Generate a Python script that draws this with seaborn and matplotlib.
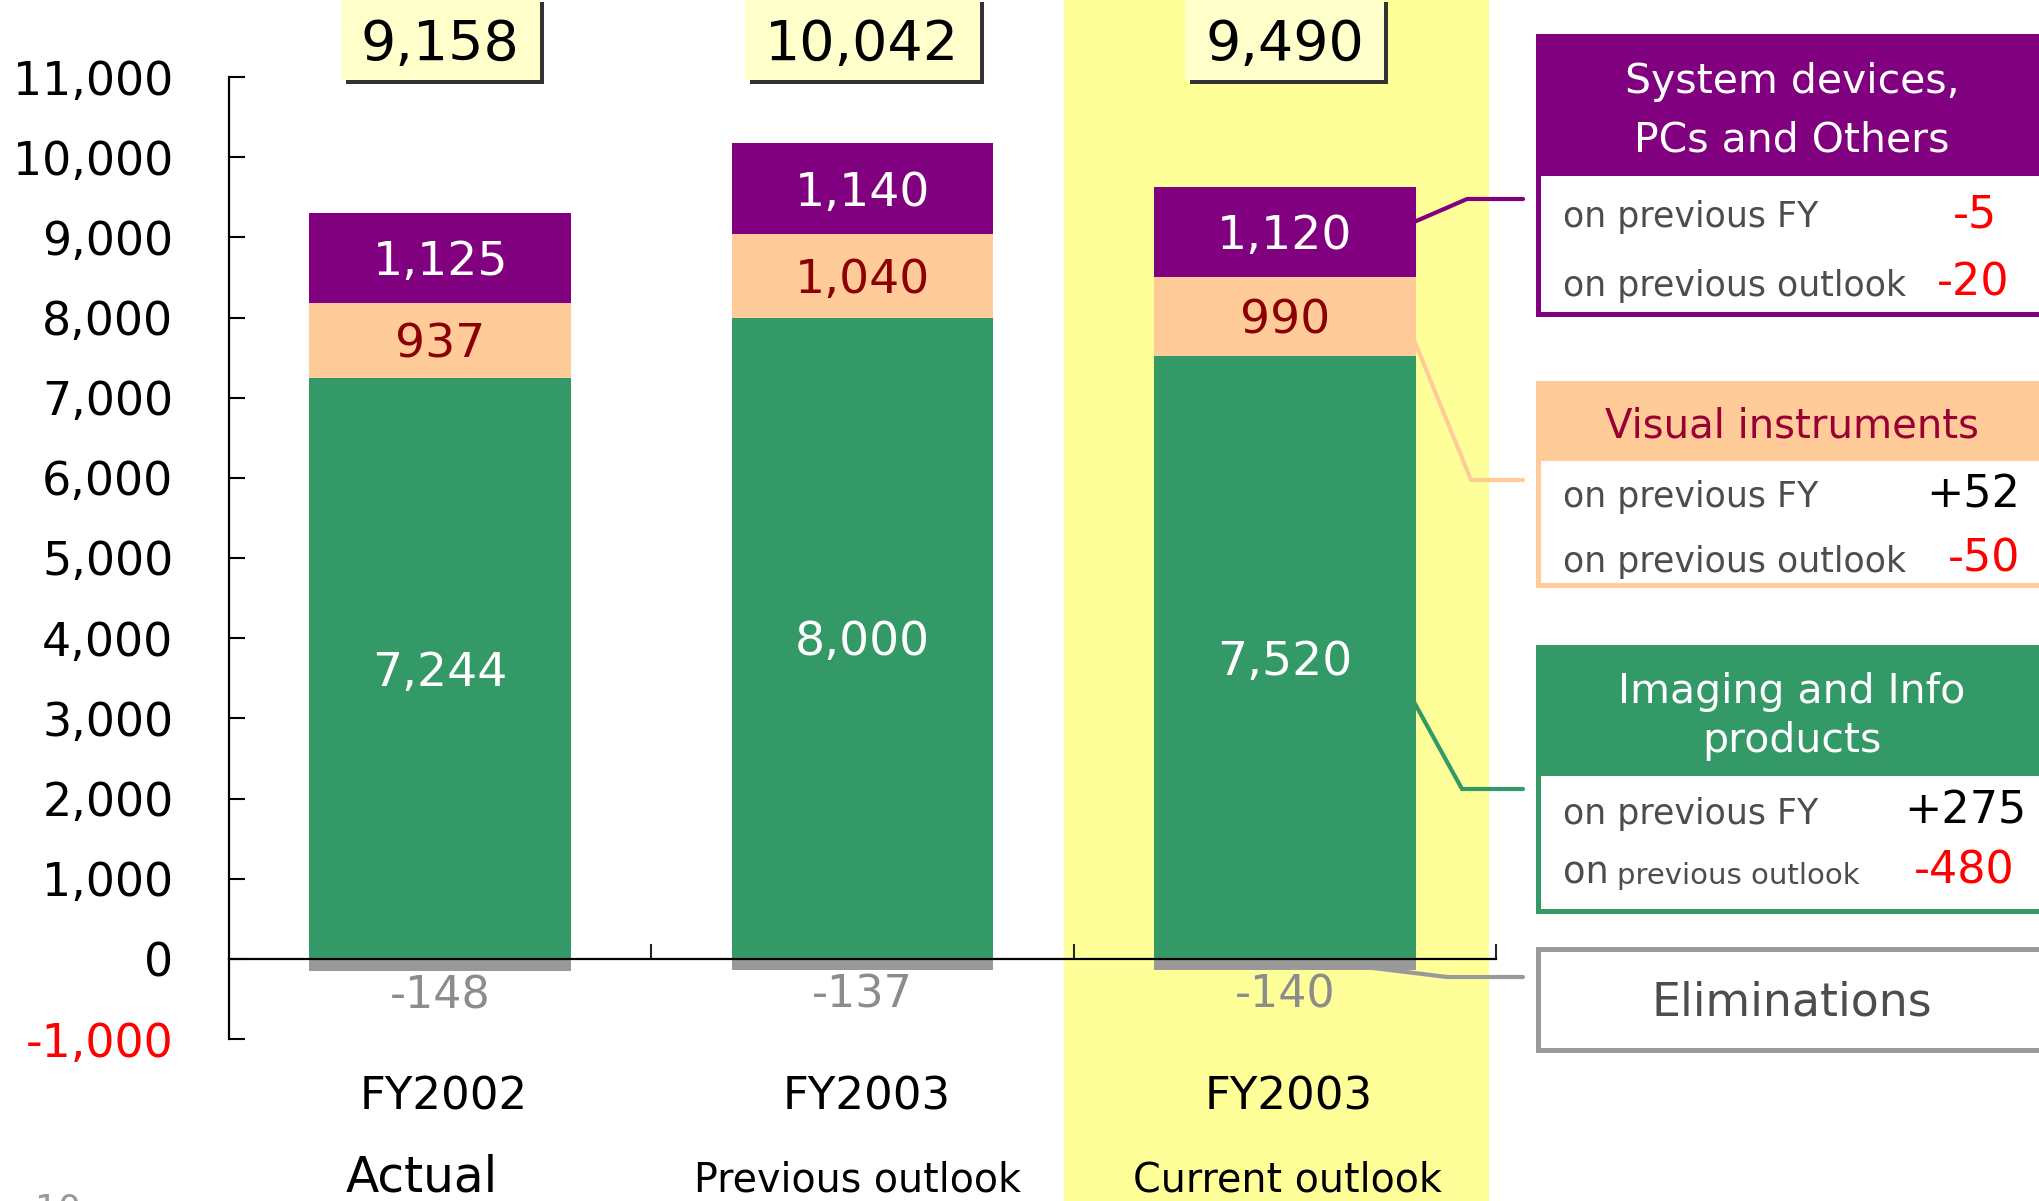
import matplotlib
matplotlib.use("Agg")
import matplotlib.pyplot as plt
import matplotlib.patches as mpatches
import matplotlib.transforms as mtransforms
from matplotlib.lines import Line2D
import pandas as pd
import seaborn as sns

# ---------------- data ----------------
periods = ["FY2002 Actual", "FY2003 Previous outlook", "FY2003 Current outlook"]
period_years = ["FY2002", "FY2003", "FY2003"]
period_kinds = ["Actual", "Previous outlook", "Current outlook"]
imaging = [7244, 8000, 7520]
visual = [937, 1040, 990]
system = [1125, 1140, 1120]
eliminations = [-148, -137, -140]
totals = [9158, 10042, 9490]
yticks = [-1000, 0, 1000, 2000, 3000, 4000, 5000, 6000, 7000, 8000, 9000, 10000, 11000]

segment_titles = ["System devices,\nPCs and Others", "Visual instruments", "Imaging and Info\nproducts"]
chg_prev_fy = [-5, 52, 275]
chg_prev_outlook = [-20, -50, -480]
elim_title = "Eliminations"

# ---------------- style ----------------
sns.set_style("white")
plt.rcParams["font.family"] = ["DejaVu Sans"]

PURPLE = "#800080"
PEACH = "#FFCC99"
GREEN = "#339966"
GREY = "#999999"
BAND = "#FFFF99"
TOTBOX = "#FFFFCC"
MAROON = "#8B0000"
TXTGREY = "#4D4D4D"

W, H = 2040, 1201
fig = plt.figure(figsize=(W / 100, H / 100), dpi=100)
ax = fig.add_axes([229 / W, (H - 1039) / H, 1267 / W, 962 / H])
ax.set_facecolor("none")

df = pd.DataFrame({
    "period": periods,
    "imaging": imaging,
    "visual": visual,
    "system": system,
    "elim": eliminations,
})
df["cum_visual"] = df["imaging"] + df["visual"]
df["cum_system"] = df["cum_visual"] + df["system"]

bw = 0.62
common = dict(data=df, x="period", order=periods, width=bw, saturation=1,
              linewidth=0, edgecolor="none", errorbar=None, ax=ax)
sns.barplot(y="cum_system", color=PURPLE, zorder=2, **common)
sns.barplot(y="cum_visual", color=PEACH, zorder=2.1, **common)
sns.barplot(y="imaging", color=GREEN, zorder=2.2, **common)
sns.barplot(y="elim", color=GREY, zorder=2.3, **common)

ax.set_xlim(-0.5, 2.5)
ax.set_ylim(-1000, 11000)
ax.set_xlabel("")
ax.set_ylabel("")
for s in ["top", "right"]:
    ax.spines[s].set_visible(False)
ax.spines["left"].set_bounds(-1000, 11000)
ax.spines["bottom"].set_position(("data", 0))
for s in ["left", "bottom"]:
    ax.spines[s].set_linewidth(1.6)
    ax.spines[s].set_color("black")
    ax.spines[s].set_zorder(4)

ax.set_yticks(yticks)
ax.set_yticklabels([f"{v:,}" for v in yticks])
ax.tick_params(axis="y", direction="in", length=11.5, width=1.5, pad=40,
               labelsize=33, colors="black", left=True)
for lbl, v in zip(ax.get_yticklabels(), yticks):
    lbl.set_color("#FF0000" if v < 0 else "black")
ax.set_xticks([0.5, 1.5, 2.5])
ax.set_xticklabels([])
ax.tick_params(axis="x", direction="in", length=11, width=1.5, bottom=True)

# highlight band behind the current outlook column (full figure height)
band_tr = mtransforms.blended_transform_factory(ax.transData, fig.transFigure)
fig.add_artist(mpatches.Rectangle((1.477, 0), 1.007, 1, transform=band_tr,
                                  facecolor=BAND, edgecolor="none", zorder=-10))


def centered_text(x, y, s, size, color):
    tr = mtransforms.offset_copy(ax.transData, fig=fig, y=-0.3645 * size, units="points")
    ax.text(x, y, s, transform=tr, ha="center", va="baseline", fontsize=size,
            color=color, zorder=5, clip_on=False)


for i in range(len(periods)):
    centered_text(i, imaging[i] / 2, f"{imaging[i]:,}", 34, "white")
    centered_text(i, imaging[i] + visual[i] / 2, f"{visual[i]:,}", 34, MAROON)
    centered_text(i, imaging[i] + visual[i] + system[i] / 2, f"{system[i]:,}", 34, "white")
    centered_text(i, eliminations[i] - 268, f"{eliminations[i]:,}", 32, "#8C8C8C")


# ---------- helpers in figure pixel coords (origin top-left) ----------
def prect(x0, y0, x1, y1, color, z):
    fig.add_artist(mpatches.Rectangle((x0 / W, 1 - y1 / H), (x1 - x0) / W, (y1 - y0) / H,
                                      transform=fig.transFigure, facecolor=color,
                                      edgecolor="none", zorder=z))


def ptext(x, y, s, size, color, ha="left", va="baseline", z=6, **kw):
    return fig.text(x / W, 1 - y / H, s, fontsize=size, color=color, ha=ha, va=va,
                    zorder=z, **kw)


def pline(pts, color, lw=3.0, z=3):
    xs = [p[0] / W for p in pts]
    ys = [1 - p[1] / H for p in pts]
    fig.add_artist(Line2D(xs, ys, transform=fig.transFigure, color=color, lw=lw,
                          solid_joinstyle="miter", zorder=z))


renderer = fig.canvas.get_renderer()
bar_cx = [ax.transData.transform((i, 0))[0] for i in range(len(periods))]

# total boxes with shadow
for i, tot in enumerate(totals):
    cx = bar_cx[i]
    t = ptext(cx, 60, f"{tot:,}", 40, "black", ha="center", z=8)
    w = t.get_window_extent(renderer=renderer).width + 40
    prect(cx - w / 2 + 5, 2, cx + w / 2 + 4, 84, "#333333", 6)
    prect(cx - w / 2, -10, cx + w / 2, 80, TOTBOX, 7)

# category labels
kind_dx = [-18, -5, 3]
for i in range(len(periods)):
    ptext(bar_cx[i] + 4, 1110, period_years[i], 32.5, "black", ha="center")
    ptext(bar_cx[i] + kind_dx[i], 1192, period_kinds[i], 35 if i == 0 else 28.5,
          "black", ha="center")

# page number (mostly cut off)
ptext(35, 1193, "10", 26, "#999999", va="top")

# ---------- right-hand commentary boxes ----------
BX0, BX1 = 1536, 2100
TX = 1792
boxes = [
    # color, top, header_bottom, bottom, title baselines, title color, row baselines
    (PURPLE, 34, 176, 317, [93, 152], "white", [227, 296]),
    (PEACH, 381, 461, 588, [437], "#990033", [507, 572]),
    (GREEN, 645, 776, 914, [703, 752], "white", [824, 884]),
]
val_right = [(1997, 2010), (2020, 2020), (2027, 2015)]
for k, (col, top, hb, bot, tb, tcol, rb) in enumerate(boxes):
    prect(BX0, top, BX1, bot, col, 2)
    prect(BX0 + 5, hb, BX1, bot - 5, "white", 2.5)
    for line, yb in zip(segment_titles[k].split("\n"), tb):
        ptext(TX, yb, line, 29.5 if k != 1 else 29, tcol, ha="center")
    ptext(1563, rb[0], "on previous FY", 25, TXTGREY)
    if k == 2:
        ptext(1563, rb[1], "on", 26.5, TXTGREY)
        ptext(1617, rb[1], "previous outlook", 21, TXTGREY)
    else:
        ptext(1563, rb[1], "on previous outlook", 25, TXTGREY)
    for v, yb, xr in [(chg_prev_fy[k], rb[0], val_right[k][0]),
                      (chg_prev_outlook[k], rb[1], val_right[k][1])]:
        ptext(xr, yb, f"{v:+d}", 32, "#FF0000" if v < 0 else "black", ha="right")

# eliminations box
prect(BX0, 947, BX1, 1053, GREY, 2)
prect(BX0 + 5, 952, BX1, 1048, "white", 2.5)
ptext(TX, 1016, elim_title, 33, TXTGREY, ha="center")

# connector lines
pline([(1414, 222), (1467, 199), (1523, 199)], PURPLE)
pline([(1414, 340), (1471, 480), (1523, 480)], PEACH)
pline([(1414, 702), (1462, 789), (1523, 789)], GREEN)
pline([(1373, 968), (1447, 977), (1523, 977)], GREY)

fig.savefig("out.png", dpi=100, facecolor="white")
